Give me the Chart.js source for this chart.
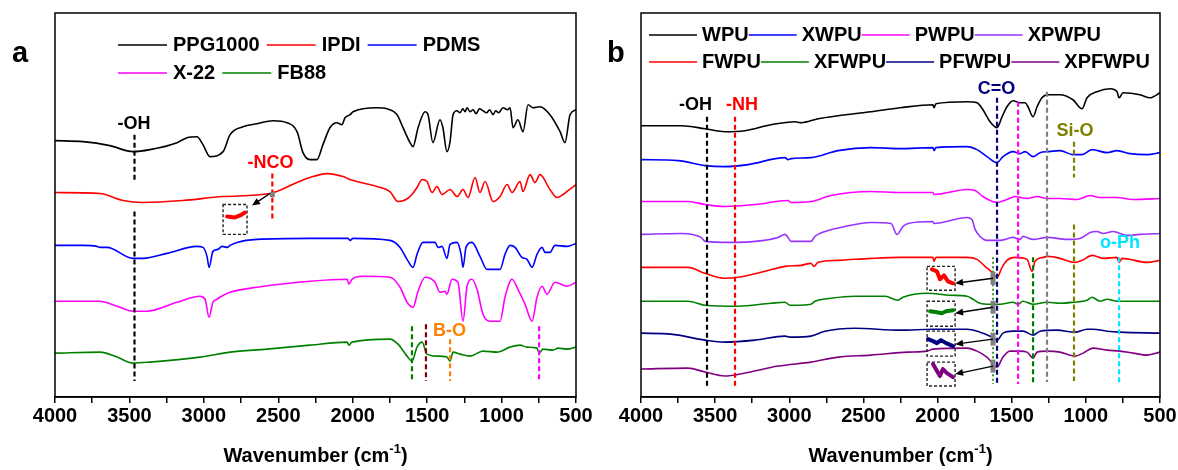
<!DOCTYPE html>
<html>
<head>
<meta charset="utf-8">
<script src="https://cdn.jsdelivr.net/npm/chart.js@4.4.1/dist/chart.umd.min.js"></script>
<style>
html, body { margin: 0; padding: 0; background: #fff; }
#wrap { position: relative; width: 1178px; height: 470px; overflow: hidden; }
.panel { position: absolute; top: 0; height: 470px; }
#pa { left: 0; width: 610px; }
#pb { left: 590px; width: 588px; }
</style>
</head>
<body>
<div id="wrap">
  <div class="panel" id="pa"><canvas id="chartA"></canvas></div>
  <div class="panel" id="pb"><canvas id="chartB"></canvas></div>
</div>
<script>
// FTIR spectra, [wavenumber cm-1, transmittance a.u. (stacked)]
const ppg1000 = [[4000,257],[3812,256],[3631,252],[3476,246],[3362,248],[3180,255],[3113,260],[3046,261],[3006,253],[2959,241],[2871,246],[2824,263],[2737,271],[2643,274],[2535,277],[2441,275],[2374,266],[2334,245],[2287,238],[2240,238],[2200,253],[2153,270],[2106,275],[2072,273],[2052,280],[2018,283],[1998,286],[1837,290],[1770,289],[1702,283],[1662,270],[1615,255],[1595,251],[1561,270],[1514,286],[1494,283],[1461,255],[1414,278],[1394,270],[1367,246],[1346,256],[1326,283],[1300,287],[1279,285],[1260,289],[1245,286],[1232,290],[1212,286],[1192,288],[1170,284],[1150,289],[1125,287],[1100,285],[1080,288],[1057,283],[1040,287],[1020,285],[990,290],[960,288],[943,290],[923,270],[890,278],[856,266],[822,293],[789,290],[742,291],[675,283],[607,266],[574,255],[540,283],[500,288]];
const ipdi = [[4000,205],[3698,204],[3543,197],[3409,195],[3140,197],[2871,201],[2556,204],[2374,215],[2287,220],[2173,224],[2065,221],[2018,218],[1837,211],[1750,206],[1696,196],[1615,201],[1568,210],[1534,218],[1501,216],[1467,205],[1434,211],[1400,203],[1346,208],[1299,201],[1259,208],[1225,200],[1178,220],[1145,205],[1111,216],[1057,196],[1010,201],[963,213],[930,205],[876,216],[856,206],[809,223],[775,215],[742,223],[675,208],[628,200],[587,203],[527,210],[500,213]];
const pdms = [[4000,152],[3812,152],[3718,151],[3698,150],[3651,150],[3476,139],[3409,139],[3248,144],[3046,151],[3006,150],[2979,141],[2965,130],[2939,146],[2905,148],[2878,151],[2844,150],[2824,152],[2777,155],[2643,158],[2287,159],[2032,159],[2018,157],[1998,159],[1750,157],[1682,150],[1635,138],[1595,130],[1568,143],[1528,155],[1447,155],[1427,150],[1400,151],[1367,139],[1346,153],[1299,155],[1272,143],[1259,130],[1239,150],[1199,155],[1145,141],[1098,128],[1010,128],[977,143],[943,152],[909,150],[863,140],[829,138],[795,130],[762,143],[728,150],[708,145],[675,145],[641,152],[560,151],[500,154]];
const x22 = [[4000,96],[3698,96],[3583,91],[3476,86],[3382,86],[3180,95],[3026,101],[2992,98],[2965,80],[2939,95],[2912,98],[2892,100],[2824,105],[2643,110],[2287,116],[2038,118],[2025,113],[2005,118],[1931,121],[1750,120],[1682,110],[1635,95],[1595,90],[1561,106],[1514,120],[1447,115],[1414,105],[1380,106],[1367,103],[1333,118],[1293,115],[1259,76],[1232,111],[1199,118],[1165,108],[1125,83],[1078,76],[1010,76],[977,100],[930,118],[890,108],[842,93],[795,76],[762,100],[728,111],[695,103],[641,115],[560,111],[500,115]];
const fb88 = [[4000,44],[3698,45],[3583,40],[3476,34],[3362,35],[3026,40],[2824,45],[2576,48],[2287,52],[2038,55],[2025,52],[2005,55],[1750,58],[1696,53],[1635,41],[1602,36],[1568,50],[1534,55],[1501,43],[1434,41],[1367,40],[1346,36],[1326,45],[1279,43],[1212,41],[1125,46],[1031,45],[943,50],[876,52],[829,50],[762,49],[748,44],[721,48],[655,47],[621,49],[560,48],[500,50]];

const wpu = [[4000,272],[3730,272],[3568,269],[3434,266],[3299,267],[3123,273],[2961,276],[2921,275],[2806,279],[2671,282],[2449,286],[2253,290],[2031,293],[2024,290],[2011,294],[1801,296],[1734,295],[1694,288],[1646,276],[1599,270],[1565,281],[1532,291],[1491,297],[1444,295],[1410,295],[1390,291],[1356,281],[1329,291],[1296,300],[1255,303],[1174,303],[1087,298],[1026,289],[992,300],[925,306],[837,309],[790,306],[776,300],[749,305],[635,303],[567,300],[500,305]];
const xwpu = [[4000,238],[3750,237],[3568,232],[3434,231],[3278,233],[3029,240],[3009,238],[2988,239],[2854,240],[2671,247],[2449,250],[2253,249],[2031,250],[2024,247],[2011,250],[1801,251],[1734,248],[1667,241],[1599,235],[1559,241],[1491,246],[1444,244],[1410,246],[1356,241],[1309,245],[1255,246],[1174,247],[1087,243],[1026,243],[958,248],[857,245],[790,247],[702,244],[587,243],[500,245]];
const pwpu = [[4000,196],[3683,196],[3568,193],[3434,191],[3231,193],[3009,197],[2988,195],[2854,196],[2719,202],[2449,206],[2253,205],[2031,205],[2024,203],[1801,208],[1747,207],[1694,201],[1599,195],[1532,198],[1478,201],[1397,199],[1329,201],[1262,199],[1174,199],[1060,198],[972,202],[905,200],[790,200],[682,198],[500,199]];
const xpwpu = [[4000,163],[3730,164],[3595,160],[3568,156],[3393,155],[3231,156],[3076,160],[3029,163],[3009,160],[2988,156],[2854,156],[2827,161],[2759,166],[2624,171],[2449,175],[2314,174],[2274,163],[2233,171],[2199,174],[2031,176],[2024,174],[1801,180],[1768,178],[1747,168],[1714,161],[1667,157],[1579,157],[1491,160],[1444,158],[1424,161],[1356,158],[1262,160],[1127,158],[1039,159],[992,163],[972,165],[925,166],[884,164],[817,166],[722,162],[635,163],[500,164]];
const fwpu = [[4000,130],[3683,130],[3568,124],[3434,119],[3346,120],[3164,126],[3029,131],[2921,132],[2854,134],[2833,131],[2806,135],[2671,137],[2449,139],[2253,140],[2031,140],[2024,136],[2011,140],[1801,140],[1734,138],[1680,131],[1633,125],[1599,120],[1565,130],[1532,137],[1478,140],[1397,138],[1363,126],[1343,136],[1289,140],[1255,141],[1174,139],[1073,135],[1026,137],[958,142],[884,139],[790,140],[776,135],[756,139],[587,135],[500,137]];
const xfwpu = [[4000,96],[3683,96],[3568,92],[3346,91],[3123,94],[3029,95],[2995,92],[2961,92],[2854,93],[2827,96],[2719,99],[2557,101],[2354,101],[2267,97],[2233,100],[2071,104],[1916,102],[1801,101],[1761,98],[1714,94],[1646,93],[1579,93],[1491,95],[1457,93],[1424,96],[1356,93],[1262,95],[1174,94],[1087,95],[992,97],[958,100],[905,96],[857,98],[790,96],[682,96],[500,96]];
const pfwpu = [[4000,64],[3798,63],[3568,57],[3434,55],[3231,57],[3029,61],[2988,60],[2854,61],[2759,66],[2557,69],[2253,67],[2031,68],[1801,68],[1714,65],[1646,61],[1599,57],[1559,64],[1491,66],[1424,66],[1356,62],[1309,66],[1195,67],[1073,65],[992,68],[952,68],[857,66],[770,65],[500,64]];
const xpfwpu = [[4000,28],[3683,29],[3568,25],[3434,21],[3299,24],[3076,31],[2854,35],[2671,40],[2449,42],[2199,45],[2071,46],[2031,48],[1801,49],[1734,46],[1667,40],[1599,30],[1559,40],[1512,46],[1444,46],[1397,45],[1356,39],[1329,45],[1262,46],[1174,45],[1073,41],[1019,44],[952,49],[857,47],[770,46],[682,44],[587,42],[500,45]];

const xTicks = [4000, 3500, 3000, 2500, 2000, 1500, 1000, 500];

// peak guides: [wavenumber, from, to, colour, dotted]
const guidesA = [[3466,263,215,'#000000'],[3466,186,16,'#000000'],[2540,224,178,'#ff0000'],[1602,71,16,'#008000'],[1508,73,16,'#800000'],[1346,58,16,'#ff8000'],[748,71,16,'#ff00ff']];
const textsA = [['-OH',3470,274,'#000000'],['-NCO',2552,235,'#ff0000'],['B-O',1350,66,'#ff8000']];
const guidesB = [[3555,281,10,'#000000'],[3366,281,10,'#ff0000'],[1599,300,13,'#000080'],[1457,296,13,'#ff00ff'],[1262,306,15,'#808080'],[1080,256,220,'#808000'],[1080,173,16,'#808000'],[776,140,13,'#00e5ff'],[1626,140,13,'#008000',true],[1356,140,13,'#008000']];
const textsB = [['-OH',3632,293,'#000000'],['-NH',3319,293,'#ff0000'],['C=O',1603,309,'#000080'],['Si-O',1073,267,'#808000'],['o-Ph',770,154,'#00e5ff']];

// zoomed insets of the weak peaks
const boxesA = [[2871,2710,193,163]];
const arrowsA = [[2556,204,2677,192]];
const spotsA = [[2540,203,5,5]];
const insetsA = [['#ff0000',[[2844,181],[2791,180],[2757,182],[2724,185]]]];
const boxesB = [[2071,1882,131,107],[2071,1882,96,71],[2071,1882,66,41],[2071,1882,35,11]];
const arrowsB = [[1626,119,1882,114],[1626,90,1882,84],[1626,58,1882,53],[1626,31,1882,23]];
const spotsB = [[1626,119,5,13],[1626,90,5,13],[1626,58,5,13],[1626,31,5,13]];
const insetsB = [
  ['#ff0000',[[2038,128],[2004,126],[1984,118],[1957,122],[1930,116],[1896,114]]],
  ['#008000',[[2051,86],[2004,85],[1970,84],[1943,86],[1896,87]]],
  ['#000080',[[2064,58],[2031,56],[2004,54],[1977,57],[1943,54],[1896,51]]],
  ['#800080',[[2031,33],[2004,26],[1984,21],[1964,28],[1937,24],[1896,20]]]
];

const FONT = '"Liberation Sans", Arial, Helvetica, sans-serif';
Chart.defaults.font.family = FONT;
Chart.defaults.color = '#000';

const ftirPlugin = {
  id: 'ftir',
  afterDatasetsDraw(chart, _args, o) {
    const { ctx, chartArea: area, scales: { x, y } } = chart;
    const X = w => x.getPixelForValue(w);
    const Y = v => y.getPixelForValue(v);
    const bold = s => `bold ${s}px ${FONT}`;
    ctx.save();

    ctx.strokeStyle = '#000';
    ctx.lineWidth = 1.5;
    ctx.strokeRect(area.left, area.top, area.width, area.height);

    for (const [w, v0, v1, color, dotted] of o.guides) {
      ctx.beginPath();
      ctx.setLineDash(dotted ? [2, 2.5] : [5, 3]);
      ctx.lineWidth = dotted ? 1.6 : 2.2;
      ctx.strokeStyle = color;
      ctx.moveTo(X(w), Y(v0));
      ctx.lineTo(X(w), Y(v1));
      ctx.stroke();
    }

    ctx.setLineDash([3, 2]);
    ctx.lineWidth = 1.4;
    ctx.strokeStyle = '#222';
    for (const [w0, w1, v0, v1] of o.boxes) {
      ctx.strokeRect(X(w0), Y(v0), X(w1) - X(w0), Y(v1) - Y(v0));
    }
    ctx.setLineDash([]);

    ctx.lineJoin = 'round';
    ctx.lineCap = 'round';
    for (const [color, pts] of o.insets) {
      ctx.beginPath();
      ctx.strokeStyle = color;
      ctx.lineWidth = 4;
      pts.forEach(([w, v], i) => i ? ctx.lineTo(X(w), Y(v)) : ctx.moveTo(X(w), Y(v)));
      ctx.stroke();
    }
    ctx.lineCap = 'butt';

    ctx.fillStyle = '#808080';
    for (const [w, v, mw, mh] of o.spots) {
      ctx.fillRect(X(w) - mw / 2, Y(v) - mh / 2, mw, mh);
    }

    ctx.strokeStyle = '#000';
    ctx.fillStyle = '#000';
    ctx.lineWidth = 1.4;
    for (const [w0, v0, w1, v1] of o.arrows) {
      const x0 = X(w0), y0 = Y(v0), x1 = X(w1), y1 = Y(v1);
      const a = Math.atan2(y1 - y0, x1 - x0), c = Math.cos(a), s = Math.sin(a);
      ctx.beginPath();
      ctx.moveTo(x0, y0);
      ctx.lineTo(x1 - 6 * c, y1 - 6 * s);
      ctx.stroke();
      ctx.beginPath();
      ctx.moveTo(x1, y1);
      ctx.lineTo(x1 - 8 * c + 3.5 * s, y1 - 8 * s - 3.5 * c);
      ctx.lineTo(x1 - 8 * c - 3.5 * s, y1 - 8 * s + 3.5 * c);
      ctx.closePath();
      ctx.fill();
    }

    ctx.font = bold(18);
    ctx.textAlign = 'center';
    ctx.textBaseline = 'middle';
    for (const [t, w, v, color] of o.texts) {
      ctx.fillStyle = color;
      ctx.fillText(t, X(w), Y(v));
    }

    // legend
    const lg = o.legend;
    ctx.font = bold(20);
    ctx.textAlign = 'left';
    lg.rows.forEach((row, r) => {
      let cx = lg.x;
      const cy = lg.ys[r];
      row.forEach(i => {
        const ds = chart.data.datasets[i];
        ctx.strokeStyle = ds.borderColor;
        ctx.lineWidth = 1.6;
        ctx.beginPath();
        ctx.moveTo(cx, cy);
        ctx.lineTo(cx + lg.line, cy);
        ctx.stroke();
        cx += lg.line + lg.gap;
        ctx.fillStyle = '#000';
        ctx.fillText(ds.label, cx, cy);
        cx += ctx.measureText(ds.label).width + lg.itemGap;
      });
    });

    // panel letter
    ctx.font = bold(29);
    ctx.textBaseline = 'alphabetic';
    ctx.fillStyle = '#000';
    ctx.fillText(o.letter[0], o.letter[1], o.letter[2]);

    // axis title with superscript
    const main = 'Wavenumber (cm', sup = '-1', close = ')';
    ctx.font = bold(20);
    const w1 = ctx.measureText(main).width, w3 = ctx.measureText(close).width;
    ctx.font = bold(13);
    const w2 = ctx.measureText(sup).width;
    const sx = (area.left + area.right) / 2 - (w1 + w2 + w3) / 2;
    const by = area.bottom + 65;
    ctx.font = bold(20);
    ctx.fillText(main, sx, by);
    ctx.fillText(close, sx + w1 + w2, by);
    ctx.font = bold(13);
    ctx.fillText(sup, sx + w1, by - 9);

    ctx.restore();
  }
};

function spectrum(label, data, color) {
  return {
    label, data, borderColor: color, backgroundColor: color, borderWidth: 1.6,
    pointRadius: 0, fill: false, cubicInterpolationMode: 'monotone'
  };
}

function buildChart(id, datasets, padding, extra) {
  return new Chart(document.getElementById(id), {
    type: 'line',
    data: { datasets },
    plugins: [ftirPlugin],
    options: {
      responsive: true,
      maintainAspectRatio: false,
      animation: false,
      layout: { padding },
      plugins: { legend: { display: false }, tooltip: { enabled: false }, ftir: extra },
      scales: {
        x: {
          type: 'linear', reverse: true, min: 500, max: 4000,
          border: { display: true, color: '#000', width: 1.5 },
          grid: { display: true, drawOnChartArea: false, drawTicks: true, tickLength: 6, color: '#000', lineWidth: 1.5 },
          ticks: {
            stepSize: 250, autoSkip: false, maxRotation: 0, padding: 1, color: '#000',
            font: { size: 20, weight: 'bold' },
            callback: v => xTicks.includes(v) ? String(v) : ''
          }
        },
        y: { display: false, min: 0, max: 385 }
      }
    }
  });
}

buildChart('chartA', [
  spectrum('PPG1000', ppg1000, '#000000'),
  spectrum('IPDI', ipdi, '#ff0000'),
  spectrum('PDMS', pdms, '#0000ff'),
  spectrum('X-22', x22, '#ff00ff'),
  spectrum('FB88', fb88, '#008000')
], { left: 55, right: 34, top: 13, bottom: 41 }, {
  guides: guidesA, texts: textsA, boxes: boxesA, arrows: arrowsA, spots: spotsA, insets: insetsA,
  legend: { x: 118, rows: [[0, 1, 2], [3, 4]], ys: [45, 73], line: 49, gap: 6, itemGap: 7 },
  letter: ['a', 12, 62]
});

buildChart('chartB', [
  spectrum('WPU', wpu, '#000000'),
  spectrum('XWPU', xwpu, '#0000ff'),
  spectrum('PWPU', pwpu, '#ff00ff'),
  spectrum('XPWPU', xpwpu, '#9933ff'),
  spectrum('FWPU', fwpu, '#ff0000'),
  spectrum('XFWPU', xfwpu, '#008000'),
  spectrum('PFWPU', pfwpu, '#000080'),
  spectrum('XPFWPU', xpfwpu, '#800080')
], { left: 51, right: 18, top: 13, bottom: 41 }, {
  guides: guidesB, texts: textsB, boxes: boxesB, arrows: arrowsB, spots: spotsB, insets: insetsB,
  legend: { x: 59, rows: [[0, 1, 2, 3], [4, 5, 6, 7]], ys: [35, 62], line: 48, gap: 5, itemGap: 0 },
  letter: ['b', 17, 62]
});
</script>
</body>
</html>
